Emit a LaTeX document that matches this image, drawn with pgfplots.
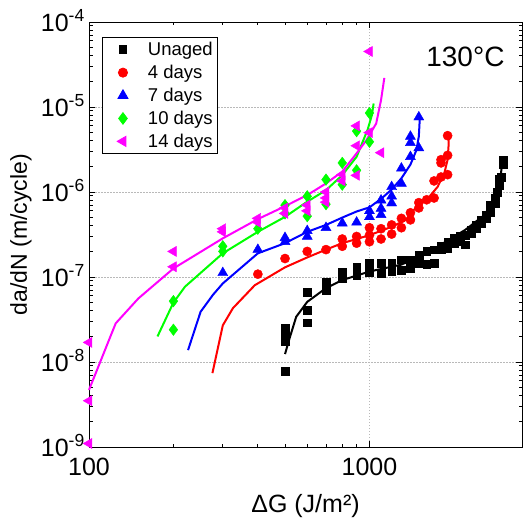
\documentclass[border=0pt]{standalone}
\usepackage{pgfplots}
\pgfplotsset{compat=1.18}
\usepackage{fontspec}
\setmainfont{Liberation Sans}
\usetikzlibrary{calc}
\definecolor{cgreen}{RGB}{0,255,0}
\definecolor{cmag}{RGB}{255,0,255}
\begin{document}
\begin{tikzpicture}
\begin{axis}[
  name=ax,
  xmode=log, ymode=log,
  scale only axis, width=433pt, height=425pt,
  xmin=100, xmax=3500, ymin=1e-9, ymax=1e-4,
  xtick={100,1000}, xticklabels={100,1000},
  ytick={1e-9,1e-8,1e-7,1e-6,1e-5,1e-4},
  yticklabels={10\textsuperscript{-9},10\textsuperscript{-8},10\textsuperscript{-7},10\textsuperscript{-6},10\textsuperscript{-5},10\textsuperscript{-4}},
  tick align=inside,
  major tick length=6pt, minor tick length=3.5pt,
  every tick/.style={black, line width=0.8pt},
  axis line style={line width=1pt},
  grid=major,
  major grid style={dash pattern=on 1.5pt off 1.5pt, gray!55, line width=0.6pt},
  ticklabel style={font=\fontsize{25}{29}\selectfont},
  xticklabel style={anchor=base, yshift=-28pt, inner sep=0pt},
  yticklabel style={anchor=base east, yshift=-9pt, xshift=-4pt, inner sep=0pt},
  xlabel={ΔG (J/m²)},
  ylabel={da/dN (m/cycle)},
  xlabel style={font=\fontsize{25}{29}\selectfont, at={(axis description cs:0.5,-0.155)}, anchor=base},
  ylabel style={font=\fontsize{23}{27}\selectfont, at={(axis description cs:-0.157,0.5)}, anchor=center},
  clip=false,
  legend cell align=left,
  legend style={at={(axis description cs:0.029,0.965)}, anchor=north west,
    draw=black, line width=0.8pt, font=\fontsize{18.5}{22}\selectfont,
    row sep=4pt, inner xsep=3pt, inner ysep=3pt},
  legend image code/.code={\path[draw=none] (0pt,0pt) -- (41pt,0pt); \draw[only marks] plot coordinates {(18pt,0pt)};},
]
% fitted lines
\addplot[black, line width=2pt, forget plot] coordinates {
(500,1.24e-8)(519,1.9e-8)(548,3.4e-8)(600,5.1e-8)(700,7.4e-8)(800,9.2e-8)(1000,1.16e-7)(1300,1.4e-7)(1600,1.9e-7)(1870,2.6e-7)(2200,3.6e-7)(2540,5.2e-7)(2750,7.3e-7)(2900,1.15e-6)(2960,1.9e-6)};
\addplot[red, line width=2pt, forget plot] coordinates {
(275.5,7.4e-9)(300,2.7e-8)(326,4.3e-8)(390,8.0e-8)(500,1.3e-7)(600,1.7e-7)(700,2.1e-7)(800,2.5e-7)(1000,3.1e-7)(1200,3.9e-7)(1350,4.7e-7)(1420,5.9e-7)(1500,7.0e-7)(1640,8.9e-7)(1750,1.15e-6)(1850,1.67e-6)(1900,2.4e-6)(1915,3.5e-6)(1920,4.6e-6)};
\addplot[blue, line width=2pt, forget plot] coordinates {
(225.5,1.38e-8)(250,3.9e-8)(277,6.2e-8)(300,8.4e-8)(400,1.9e-7)(500,2.5e-7)(600,3.4e-7)(700,4.1e-7)(800,5.0e-7)(900,5.9e-7)(1000,6.6e-7)(1100,8.3e-7)(1200,1.07e-6)(1300,1.45e-6)(1400,2.1e-6)(1470,3.1e-6)(1500,4.5e-6)(1514,8.0e-6)};
\addplot[cgreen, line width=2pt, forget plot] coordinates {
(175.5,2.0e-8)(200,5.0e-8)(220,7.7e-8)(300,1.9e-7)(400,3.4e-7)(500,5.1e-7)(600,7.7e-7)(700,1.05e-6)(800,1.58e-6)(900,2.6e-6)(985,5.4e-6)(1020,8e-6)(1035,1.1e-5)};
\addplot[cmag, line width=2pt, forget plot] coordinates {
(100,4.7e-9)(124.5,2.85e-8)(150,5.6e-8)(200,1.26e-7)(300,2.85e-7)(400,4.8e-7)(500,6.8e-7)(600,9.2e-7)(700,1.26e-6)(800,1.74e-6)(900,2.85e-6)(975,4.07e-6)(1057,6.4e-6)(1100,1.21e-5)(1130,2.2e-5)};
% data points
\addplot[only marks, mark=square*, mark size=3.9pt, black] coordinates {
(500,2.5e-8)(500,2.2e-8)(500,1.74e-8)(500,7.8e-9)(600,6.6e-8)(600,4.1e-8)(600,2.9e-8)(700,8.8e-8)(700,7.0e-8)(800,1.15e-7)(800,9.6e-8)(900,1.3e-7)(900,1.04e-7)(1000,1.44e-7)(1000,1.15e-7)(1100,1.44e-7)(1100,1.1e-7)(1200,1.44e-7)(1200,1.18e-7)(1300,1.6e-7)(1300,1.2e-7)(1400,1.6e-7)(1400,1.27e-7)(1500,1.8e-7)(1500,1.45e-7)(1600,2.0e-7)(1600,1.4e-7)(1700,2.1e-7)(1700,1.45e-7)(1800,2.3e-7)(1800,2.1e-7)(1900,2.6e-7)(1900,2.2e-7)(2000,2.9e-7)(2000,2.5e-7)(2100,3.0e-7)(2100,2.6e-7)(2200,3.1e-7)(2200,2.4e-7)(2300,3.6e-7)(2300,3.3e-7)(2400,4.1e-7)(2400,3.7e-7)(2500,4.7e-7)(2500,4.3e-7)(2600,5.3e-7)(2600,4.9e-7)(2700,7.0e-7)(2700,5.8e-7)(2800,8.5e-7)(2800,7.4e-7)(2850,1.0e-6)(2900,1.2e-6)(2900,1.4e-6)(2950,1.5e-6)(3000,2.1e-6)(3000,2.4e-6)};
\addlegendentry{Unaged}
\addplot[only marks, mark=*, mark size=4.6pt, red] coordinates {
(400,1.08e-7)(500,1.65e-7)(600,2.0e-7)(700,2.1e-7)(800,2.8e-7)(800,2.3e-7)(900,3.0e-7)(900,2.5e-7)(1000,3.8e-7)(1000,3.1e-7)(1000,2.6e-7)(1100,3.7e-7)(1100,2.8e-7)(1200,4.1e-7)(1200,3.2e-7)(1300,4.9e-7)(1300,3.8e-7)(1400,5.7e-7)(1400,4.7e-7)(1500,7.5e-7)(1500,6.5e-7)(1600,8.1e-7)(1700,1.35e-6)(1700,8.5e-7)(1800,2.4e-6)(1800,2.2e-6)(1800,1.5e-6)(1900,4.6e-6)(1900,2.7e-6)(1900,1.6e-6)};
\addlegendentry{4 days}
\addplot[only marks, mark=triangle*, mark size=5.8pt, blue] coordinates {
(300,1.12e-7)(400,2.1e-7)(500,2.9e-7)(500,2.6e-7)(600,3.5e-7)(600,3.0e-7)(700,3.8e-7)(800,4.3e-7)(900,4.4e-7)(1000,6.0e-7)(1000,5.1e-7)(1100,8.0e-7)(1100,6.4e-7)(1100,5.4e-7)(1200,1.15e-6)(1200,8.9e-7)(1200,7.4e-7)(1300,1.9e-6)(1300,1.26e-6)(1400,4.5e-6)(1400,3.8e-6)(1400,2.6e-6)(1500,7.6e-6)(1500,3.3e-6)};
\addlegendentry{7 days}
\addplot[only marks, mark=diamond*, mark size=5.8pt, cgreen] coordinates {
(200,5.2e-8)(200,2.4e-8)(300,2.3e-7)(300,2.0e-7)(400,3.7e-7)(500,7.0e-7)(500,5.6e-7)(600,8.9e-7)(600,5.2e-7)(700,1.4e-6)(700,7.2e-7)(800,2.2e-6)(800,1.22e-6)(900,5.2e-6)(900,1.8e-6)(1000,8.5e-6)(1000,3.9e-6)};
\addlegendentry{10 days}
\addplot[only marks, mark=triangle*, mark size=5.8pt, mark options={rotate=90}, cmag] coordinates {
(100,1.7e-8)(100,3.5e-9)(100,1.1e-9)(200,2.0e-7)(200,1.32e-7)(300,3.7e-7)(300,3.4e-7)(400,4.9e-7)(400,4.4e-7)(500,6.5e-7)(500,5.6e-7)(600,7.0e-7)(600,6.0e-7)(700,1.0e-6)(700,8.5e-7)(700,7.6e-7)(800,1.6e-6)(800,1.35e-6)(900,6.0e-6)(900,3.5e-6)(900,1.57e-6)(1000,4.5e-5)(1000,5.0e-6)(1100,2.9e-6)};
\addlegendentry{14 days}
\node[anchor=base east, font=\fontsize{28}{32}\selectfont, inner sep=0pt] at (axis description cs:0.96,0.895) {130°C};
\end{axis}
\pgfresetboundingbox
\path ($(ax.south west)+(-89pt,-78pt)$) rectangle ($(ax.north east)+(1pt,22pt)$);
\end{tikzpicture}
\end{document}
